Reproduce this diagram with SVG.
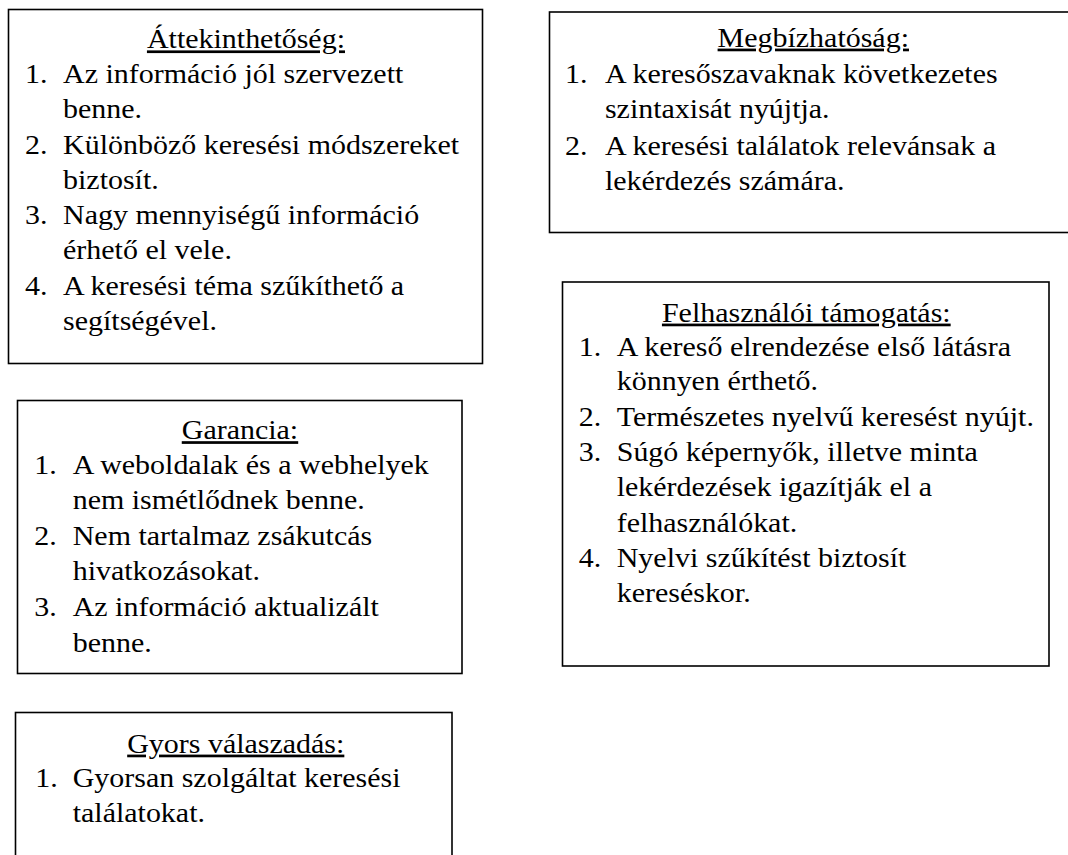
<svg xmlns="http://www.w3.org/2000/svg" width="1068" height="855" viewBox="0 0 1068 855">
<style>
.box{fill:#fff;stroke:#000;stroke-width:1.6}
text{font-family:'Liberation Serif','Times New Roman',Times,'Nimbus Roman','Noto Serif','DejaVu Serif','FreeSerif',serif;font-size:27px;fill:#000}
.t{text-anchor:middle;text-decoration:underline}
</style>
<rect width="1068" height="855" fill="#fff"/>
<g id="connectors"></g>
<g id="attekinthetoseg">
<rect class="box" x="8.5" y="9.5" width="474" height="354"/>
<g transform="scale(1.11,1)">
<text class="t" x="221.6" y="48.5">Áttekinthetőség:</text>
<text x="22.5" y="82.7">1.</text><text x="56.8" y="82.7">Az információ jól szervezett</text>
<text x="56.8" y="118">benne.</text>
<text x="22.5" y="154">2.</text><text x="56.8" y="154">Különböző keresési módszereket</text>
<text x="56.8" y="189">biztosít.</text>
<text x="22.5" y="224">3.</text><text x="56.8" y="224">Nagy mennyiségű információ</text>
<text x="56.8" y="259">érhető el vele.</text>
<text x="22.5" y="295">4.</text><text x="56.8" y="295">A keresési téma szűkíthető a</text>
<text x="56.8" y="330">segítségével.</text>
</g>
</g>
<g id="megbizhatosag">
<rect class="box" x="549.5" y="12" width="530" height="220.5"/>
<g transform="scale(1.11,1)">
<text class="t" x="732.7" y="46.7">Megbízhatóság:</text>
<text x="509" y="83">1.</text><text x="545" y="83">A keresőszavaknak következetes</text>
<text x="545" y="118">szintaxisát nyújtja.</text>
<text x="509" y="155">2.</text><text x="545" y="155">A keresési találatok relevánsak a</text>
<text x="545" y="190">lekérdezés számára.</text>
</g>
</g>
<g id="garancia">
<rect class="box" x="17.5" y="400.5" width="444.5" height="273"/>
<g transform="scale(1.11,1)">
<text class="t" x="216.2" y="439.3">Garancia:</text>
<text x="30.9" y="474.3">1.</text><text x="65.5" y="474.3">A weboldalak és a webhelyek</text>
<text x="65.5" y="509.3">nem ismétlődnek benne.</text>
<text x="30.9" y="545">2.</text><text x="65.5" y="545">Nem tartalmaz zsákutcás</text>
<text x="65.5" y="580">hivatkozásokat.</text>
<text x="30.9" y="616">3.</text><text x="65.5" y="616">Az információ aktualizált</text>
<text x="65.5" y="651.7">benne.</text>
</g>
</g>
<g id="felhasznaloi-tamogatas">
<rect class="box" x="562.5" y="282" width="486.5" height="384"/>
<g transform="scale(1.11,1)">
<text class="t" x="726.4" y="321.7">Felhasználói támogatás:</text>
<text x="521.4" y="356">1.</text><text x="555.6" y="356">A kereső elrendezése első látásra</text>
<text x="555.6" y="390">könnyen érthető.</text>
<text x="521.4" y="426">2.</text><text x="555.6" y="426">Természetes nyelvű keresést nyújt.</text>
<text x="521.4" y="461">3.</text><text x="555.6" y="461">Súgó képernyők, illetve minta</text>
<text x="555.6" y="496">lekérdezések igazítják el a</text>
<text x="555.6" y="531.7">felhasználókat.</text>
<text x="521.4" y="566.7">4.</text><text x="555.6" y="566.7">Nyelvi szűkítést biztosít</text>
<text x="555.6" y="601.7">kereséskor.</text>
</g>
</g>
<g id="gyors-valaszadas">
<rect class="box" x="15.5" y="712.5" width="436.5" height="160"/>
<g transform="scale(1.11,1)">
<text class="t" x="212.4" y="752.7">Gyors válaszadás:</text>
<text x="31.8" y="786.7">1.</text><text x="65.5" y="786.7">Gyorsan szolgáltat keresési</text>
<text x="65.5" y="821.7">találatokat.</text>
</g>
</g>
</svg>
